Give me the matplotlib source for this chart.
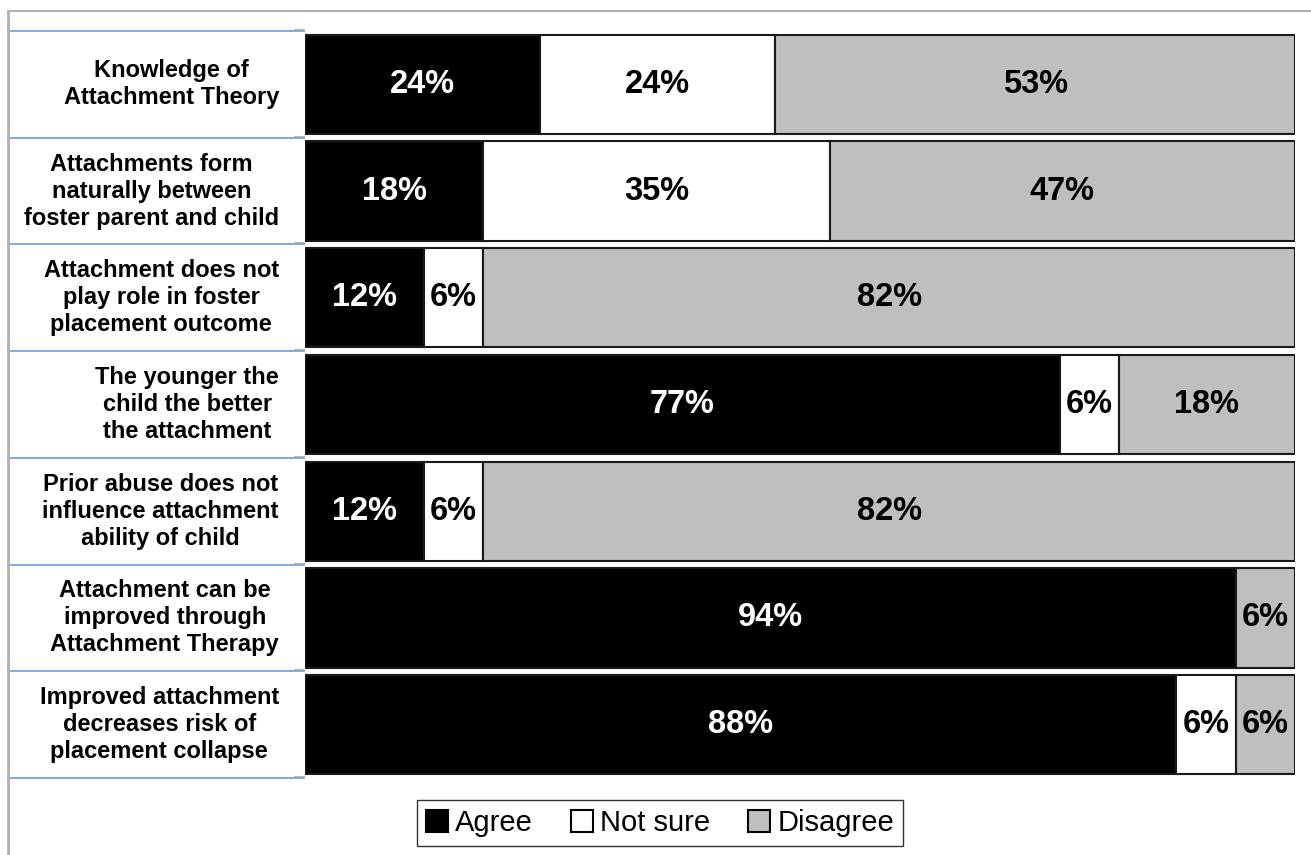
import matplotlib
matplotlib.use("Agg")
import matplotlib.pyplot as plt
from matplotlib import font_manager
from matplotlib.patches import Patch
from matplotlib.lines import Line2D
import numpy as np

categories = [
    "Knowledge of\nAttachment Theory",
    "Attachments form\nnaturally between\nfoster parent and child",
    "Attachment does not\nplay role in foster\nplacement outcome",
    "The younger the\nchild the better\nthe attachment",
    "Prior abuse does not\ninfluence attachment\nability of child",
    "Attachment can be\nimproved through\nAttachment Therapy",
    "Improved attachment\ndecreases risk of\nplacement collapse",
]
agree = [24, 18, 12, 77, 12, 94, 88]
not_sure = [24, 35, 6, 6, 6, 0, 6]
disagree = [53, 47, 82, 18, 82, 6, 6]
series_names = ["Agree", "Not sure", "Disagree"]
series_colors = ["#000000", "#FFFFFF", "#BFBFBF"]
text_colors = ["white", "black", "black"]

names = {f.name for f in font_manager.fontManager.ttflist}
if "Liberation Sans Narrow" in names:
    narrow = "Liberation Sans Narrow"
    lab_size = 28
    leg_size = 24
else:
    narrow = "Liberation Sans"
    lab_size = 23.5
    leg_size = 21

fig = plt.figure(figsize=(13.11, 8.55), dpi=100)
W, H = 1311, 855
x0, x1 = 305, 1295
ytop, ybot = 31, 778
ax = fig.add_axes([x0 / W, 1 - ybot / H, (x1 - x0) / W, (ybot - ytop) / H])

data = np.array([agree, not_sure, disagree], dtype=float)
totals = data.sum(axis=0)
norm = data / totals * 100
y = np.arange(len(categories))
left = np.zeros(len(categories))
for k in range(3):
    ax.barh(y, norm[k], left=left, height=0.93, color=series_colors[k],
            edgecolor="#1a1a1a", linewidth=1.5, label=series_names[k])
    for i in range(len(categories)):
        if data[k, i] > 0:
            ax.text(left[i] + norm[k, i] / 2, y[i], f"{int(data[k, i])}%",
                    ha="center", va="center", color=text_colors[k],
                    fontsize=lab_size, fontweight="bold", family=narrow)
    left += norm[k]

ax.set_xlim(0, 100)
ax.set_ylim(len(categories) - 0.5, -0.5)
ax.axis("off")

# category labels
for i, c in enumerate(categories):
    yy = ytop + (i + 0.5) * (ybot - ytop) / len(categories)
    fig.text(279 / W, 1 - yy / H, c, ha="right", va="center",
             fontsize=17, fontweight="bold", family="Liberation Sans",
             multialignment="center", linespacing=1.22)

# blue category separators and small ticks
for i in range(len(categories) + 1):
    yy = ytop + i * (ybot - ytop) / len(categories)
    fig.add_artist(Line2D([8 / W, 304 / W], [1 - yy / H, 1 - yy / H],
                          color="#6A9BD8", lw=1.2, transform=fig.transFigure))
    fig.add_artist(Line2D([295 / W, 304 / W], [1 - (yy - 1) / H, 1 - (yy - 1) / H],
                          color="#A6A6A6", lw=1.2, transform=fig.transFigure))

# chart frame (top and left)
fig.add_artist(Line2D([8 / W, 1], [1 - 11 / H, 1 - 11 / H], color="#B0B0B0",
                      lw=1.5, transform=fig.transFigure))
fig.add_artist(Line2D([8 / W, 8 / W], [0, 1 - 11 / H], color="#B0B0B0",
                      lw=2, transform=fig.transFigure))

handles = [Patch(facecolor=series_colors[k], edgecolor="black", linewidth=1.5,
                 label=series_names[k]) for k in range(3)]
leg = fig.legend(handles=handles, loc="center", bbox_to_anchor=(660 / W, 1 - 823 / H),
                 ncol=3, frameon=True, fancybox=False, edgecolor="black",
                 prop={"family": narrow, "size": leg_size},
                 handlelength=0.75, handleheight=0.75, handletextpad=0.25,
                 columnspacing=1.3, borderpad=0.3, borderaxespad=0)
leg.get_frame().set_linewidth(1.0)

fig.savefig("out.png", dpi=100)
